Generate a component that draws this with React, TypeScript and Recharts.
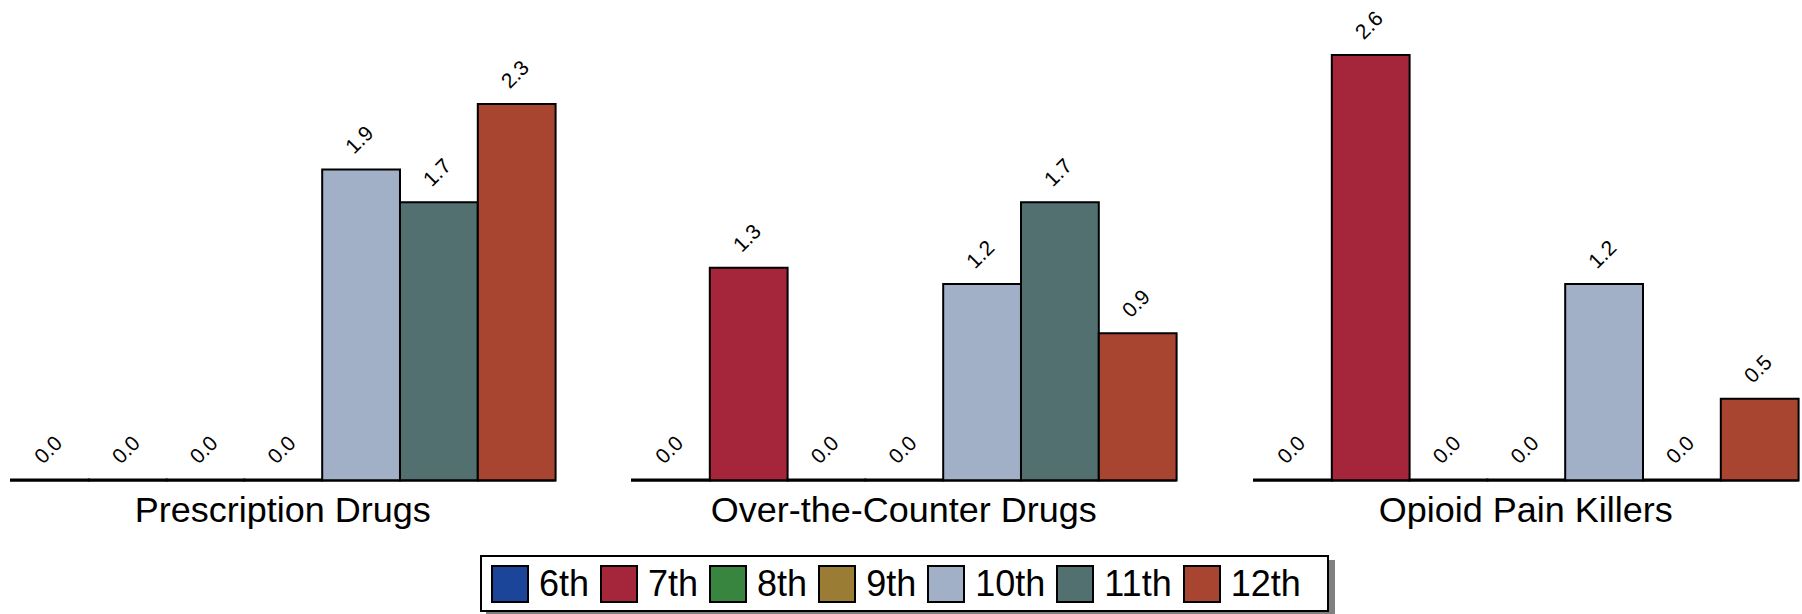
import { BarChart, Bar, XAxis, YAxis, LabelList } from "recharts";

const grades = ["6th", "7th", "8th", "9th", "10th", "11th", "12th"];
const gradeKeys = ["g6", "g7", "g8", "g9", "g10", "g11", "g12"];
const gradeColors = ["#1a4599", "#a5253b", "#37853f", "#9b7c34", "#a2b0c7", "#52706f", "#a84530"];

const categories = ["Prescription Drugs", "Over-the-Counter Drugs", "Opioid Pain Killers"];
const prescriptionValues = [0, 0, 0, 0, 1.9, 1.7, 2.3];
const otcValues = [0, 1.3, 0, 0, 1.2, 1.7, 0.9];
const opioidValues = [0, 2.6, 0, 0, 1.2, 0, 0.5];
const seriesValues = [prescriptionValues, otcValues, opioidValues];

const rows = categories.map((name, i) => {
  const row: Record<string, string | number> = { name };
  gradeKeys.forEach((k, j) => {
    row[k] = seriesValues[i][j];
  });
  return row;
});

const FONT = "'Liberation Sans', Arial, Helvetica, sans-serif";
const BAR_W = 77.8;
// a hair wider than the bars so recharts doesn't shrink them to 90%
const PLOT_W = BAR_W * 7 + 1;
const PAD = 3; // room for the outer bar strokes
const PANEL_LEFTS = [9.6, 631.3, 1253];
const CHART_H = 560;
const PLOT_H = 480.5;

function ValueLabel(props: any) {
  const vb = props.viewBox ?? props;
  const x = Number(vb.x ?? props.x);
  const y = Number(vb.y ?? props.y);
  const w = Number(vb.width ?? props.width);
  const h = Number(vb.height ?? props.height ?? 0);
  const top = h < 0 ? y + h : y;
  const cx = x + w / 2 - 2;
  const cy = top - 30;
  return (
    <text
      x={cx}
      y={cy}
      transform={`rotate(-45 ${cx} ${cy})`}
      textAnchor="middle"
      dominantBaseline="central"
      fontSize={21}
      fontFamily={FONT}
      fill="#000"
    >
      {Number(props.value).toFixed(1)}
    </text>
  );
}

function CategoryTick(props: any) {
  const { x, y, payload } = props;
  return (
    <text x={x} y={y + 42} textAnchor="middle" fontSize={36} fontFamily={FONT} fill="#000">
      {payload.value}
    </text>
  );
}

function Panel({ row, left }: { row: Record<string, string | number>; left: number }) {
  return (
    <div style={{ position: "absolute", left: left - PAD, top: 0 }}>
      <BarChart
        width={PLOT_W + PAD * 2}
        height={CHART_H}
        data={[row]}
        margin={{ top: 0, right: PAD, bottom: 0, left: PAD }}
        barCategoryGap={0}
        barGap={0}
      >
        <YAxis hide domain={[0, PLOT_H / 163.7]} />
        <XAxis
          dataKey="name"
          height={CHART_H - PLOT_H}
          axisLine={{ stroke: "#000", strokeWidth: 2 }}
          tickLine={false}
          tickSize={0}
          tickMargin={0}
          interval={0}
          tick={CategoryTick}
        />
        {gradeKeys.map((k, i) => (
          <Bar
            key={k}
            dataKey={k}
            name={grades[i]}
            barSize={BAR_W}
            minPointSize={1}
            fill={gradeColors[i]}
            stroke="#000"
            strokeWidth={2}
            isAnimationActive={false}
          >
            <LabelList dataKey={k} content={ValueLabel} />
          </Bar>
        ))}
      </BarChart>
    </div>
  );
}

function GradeLegend() {
  return (
    <div
      style={{
        position: "absolute",
        left: 480,
        top: 555,
        width: 849,
        height: 57,
        boxSizing: "border-box",
        border: "2px solid #000",
        background: "#fff",
        boxShadow: "6px 5px 0 #808080",
        display: "flex",
        alignItems: "center",
        paddingLeft: 9,
        fontFamily: FONT,
        fontSize: 36,
        color: "#000",
      }}
    >
      {grades.map((g, i) => (
        <div key={g} style={{ display: "flex", alignItems: "center", marginRight: 11 }}>
          <div
            style={{
              width: 38,
              height: 38,
              boxSizing: "border-box",
              border: "2px solid #000",
              background: gradeColors[i],
              marginRight: 10,
            }}
          />
          <span style={{ lineHeight: "38px" }}>{g}</span>
        </div>
      ))}
    </div>
  );
}

export default function App() {
  return (
    <div style={{ position: "absolute", left: 0, top: 0, width: 1802, height: 614, background: "#fff", overflow: "hidden" }}>
      {rows.map((row, i) => (
        <Panel key={String(row.name)} row={row} left={PANEL_LEFTS[i]} />
      ))}
      <GradeLegend />
    </div>
  );
}
